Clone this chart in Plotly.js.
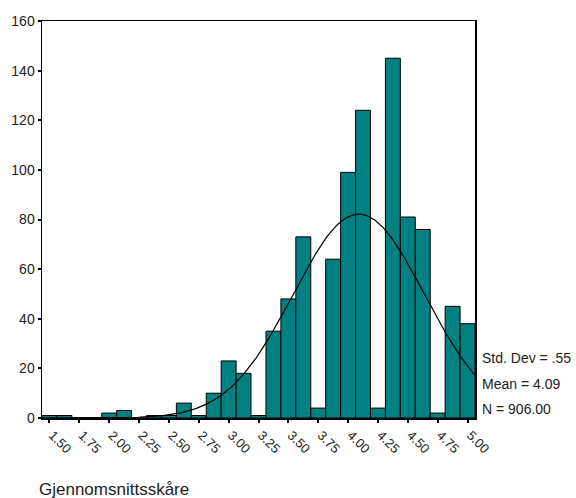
<!DOCTYPE html>
<html>
<head>
<meta charset="utf-8">
<script src="https://cdn.plot.ly/plotly-3.0.1.min.js"></script>
<style>html,body{margin:0;padding:0;background:#fff;}#chart{width:576px;height:498px;}</style>
</head>
<body>
<div id="chart"></div>
<script>
// Bin centres (bin width 0.125) and counts
const binCenters = [1.500,1.625,1.750,1.875,2.000,2.125,2.250,2.375,2.500,2.625,2.750,2.875,3.000,3.125,3.250,3.375,3.500,3.625,3.750,3.875,4.000,4.125,4.250,4.375,4.500,4.625,4.750,4.875,5.000];
const counts     = [1,1,0,0,2,3,0,1,1,6,1,10,23,18,1,35,48,73,4,64,99,124,4,145,81,76,2,45,38];
const tickVals   = [1.50,1.75,2.00,2.25,2.50,2.75,3.00,3.25,3.50,3.75,4.00,4.25,4.50,4.75,5.00];
const tickText   = ["1.50","1.75","2.00","2.25","2.50","2.75","3.00","3.25","3.50","3.75","4.00","4.25","4.50","4.75","5.00"];
const yTickVals  = [0,20,40,60,80,100,120,140,160];
const statLabels = ["Std. Dev = .55","Mean = 4.09","N = 906.00"];
const MEAN = 4.09, SD = 0.55, N = 906, BIN = 0.125;
const X_MIN = 1.4375, X_MAX = 5.0625;

// Fitted normal curve from the reported statistics
const curveX = [], curveY = [];
for (let i = 0; i <= 300; i++) {
  const x = X_MIN + (X_MAX - X_MIN) * i / 300;
  const z = (x - MEAN) / SD;
  curveX.push(x);
  curveY.push(N * BIN / (SD * Math.sqrt(2 * Math.PI)) * Math.exp(-0.5 * z * z));
}

const font = "Liberation Sans, Arial, sans-serif";
const data = [
  {type:'bar', x:binCenters, y:counts, width:BIN,
   marker:{color:'#008080', line:{color:'#000', width:1}}, hoverinfo:'x+y'},
  {type:'scatter', mode:'lines', x:curveX, y:curveY,
   line:{color:'#000', width:1.2}, hoverinfo:'skip'}
];
const layout = {
  width:576, height:498,
  margin:{l:42, r:101, t:21, b:80, pad:0},
  paper_bgcolor:'#fff', plot_bgcolor:'#fff',
  showlegend:false, bargap:0,
  font:{family:font, color:'#000', size:13},
  xaxis:{range:[X_MIN, X_MAX], tickmode:'array', tickvals:tickVals, ticktext:tickText,
         tickangle:45, ticks:'outside', ticklen:3, tickwidth:2, tickcolor:'#000',
         ticklabelshift:3,
         showgrid:false, zeroline:false, showline:true, linecolor:'#000', linewidth:1.5,
         mirror:true, tickfont:{size:13, family:font, color:'#222'}},
  yaxis:{range:[0,160], tickmode:'array', tickvals:yTickVals,
         ticks:'outside', ticklen:3, tickwidth:2, tickcolor:'#000',
         showgrid:false, zeroline:false, showline:true, linecolor:'#000', linewidth:1.5,
         mirror:true, tickfont:{size:14, family:font, color:'#222'}},
  annotations:[
    {xref:'paper', yref:'paper', x:(480-42)/433, y:(417-357)/397, xanchor:'left', yanchor:'middle',
     text:statLabels[0], showarrow:false, font:{size:14, family:font, color:'#222'}},
    {xref:'paper', yref:'paper', x:(480-42)/433, y:(417-383)/397, xanchor:'left', yanchor:'middle',
     text:statLabels[1], showarrow:false, font:{size:14, family:font, color:'#222'}},
    {xref:'paper', yref:'paper', x:(480-42)/433, y:(417-408)/397, xanchor:'left', yanchor:'middle',
     text:statLabels[2], showarrow:false, font:{size:14, family:font, color:'#222'}},
    {xref:'paper', yref:'paper', x:(37-42)/433, y:(417-488)/397, xanchor:'left', yanchor:'middle',
     text:'Gjennomsnittsskåre', showarrow:false, font:{size:17, family:font, color:'#222'}}
  ]
};
Plotly.newPlot('chart', data, layout, {displayModeBar:false, staticPlot:true});
</script>
</body>
</html>
